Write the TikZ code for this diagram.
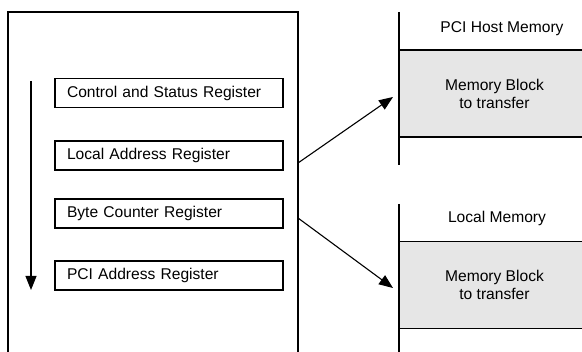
\documentclass[tikz,border=0pt]{standalone}
\usepackage{fontspec}
\setmainfont{Liberation Sans}
\usetikzlibrary{arrows.meta}
\definecolor{blockgray}{HTML}{E6E6E6}
\begin{document}
\begin{tikzpicture}[x=1pt,y=-1pt,
  every node/.style={font=\fontsize{15.6}{18}\selectfont},
  line/.style={line width=1.1pt,black},
  regbox/.style={draw,line width=1.1pt,minimum width=228pt,minimum height=29pt,
    inner xsep=12pt,text width=204pt,align=left,anchor=center},
  memblock/.style={fill=blockgray,draw,line width=1.1pt,minimum width=191pt,minimum height=87pt,
    align=center,inner sep=0pt},
  tip/.style={-{Triangle[length=14pt,width=11pt]}}
]
\clip (0,0) rectangle (582,352);
\fill[white] (0,0) rectangle (582,352);
% DMA controller box (open at bottom)
\draw[line] (8,360) -- (8,12) -- (298,12) -- (298,360);
\coordinate (ctlA) at (298,163);
\coordinate (ctlB) at (298,218);
% registers
\node[regbox] (csr) at (169,93) {Control and Status Register};
\node[regbox] (lar) at (169,155.5) {Local Address Register};
\node[regbox] (bcr) at (169,213.5) {Byte Counter Register};
\node[regbox] (par) at (169,275.5) {PCI Address Register};
% sequence arrow
\coordinate (seqtop) at (31,81);
\coordinate (seqbot) at (31,290);
\draw[line,tip] (seqtop) -- (seqbot);
% PCI host memory
\draw[line] (399,12) -- (399,165);
\node (hosthdr) at (502,29) {PCI Host Memory};
\node[memblock] (hostblk) at (494.5,93.5) {Memory Block\\to transfer};
% local memory
\draw[line] (399,204) -- (399,360);
\node (lochdr) at (497,218) {Local Memory};
\node[memblock] (locblk) at (494.5,285) {Memory Block\\to transfer};
% transfer arrows
\coordinate (hostin) at (393,97);
\coordinate (locin) at (393,288);
\draw[line,tip] (ctlA) -- (hostin);
\draw[line,tip] (ctlB) -- (locin);
\end{tikzpicture}
\end{document}
